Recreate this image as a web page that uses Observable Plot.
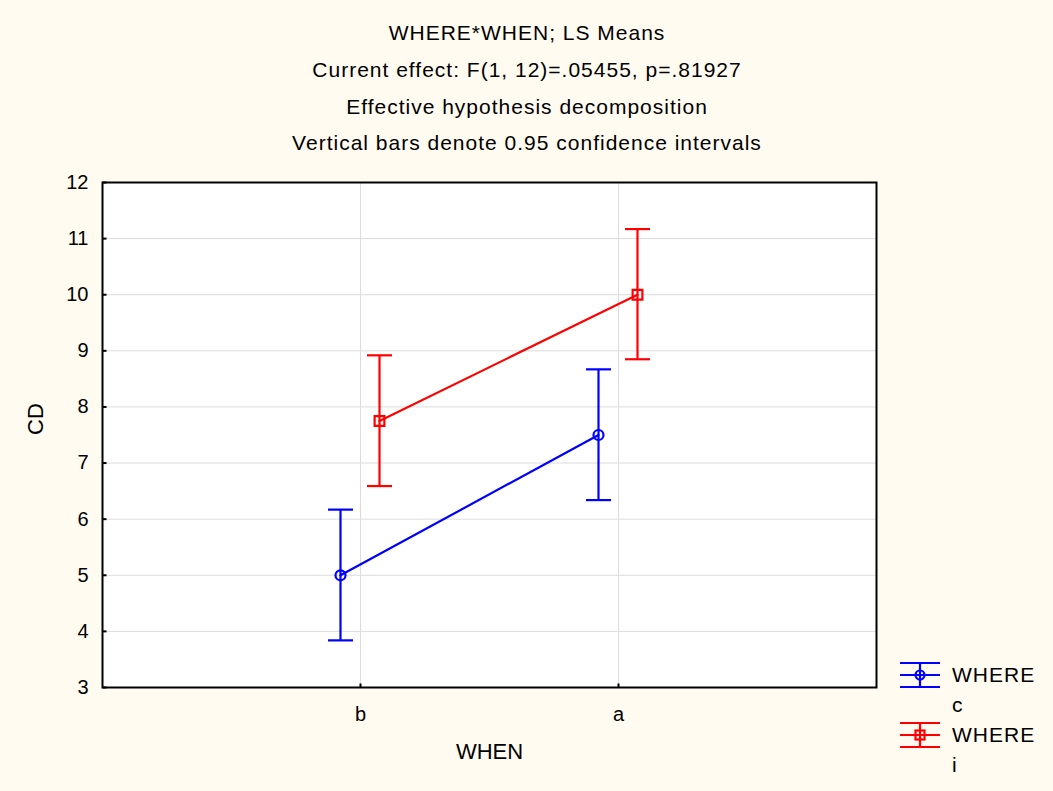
<!DOCTYPE html>
<html>
<head>
<meta charset="utf-8">
<script src="https://cdn.jsdelivr.net/npm/d3@7"></script>
<script src="https://cdn.jsdelivr.net/npm/@observablehq/plot@0.6"></script>
<style>
  html, body { margin: 0; padding: 0; background: #fffbf0; }
  body { width: 1053px; height: 791px; overflow: hidden; position: relative;
         font-family: "Liberation Sans", Arial, sans-serif; color: #000; }
  #header, #chart, #legend { position: absolute; left: 0; }
  #header { top: 0; }
  #chart { top: 165px; }
  #legend { top: 0; }
</style>
</head>
<body>
<div id="header"></div>
<div id="chart"></div>
<div id="legend"></div>
<script>
// ---- data ----
const titleLines = [
  "WHERE*WHEN; LS Means",
  "Current effect: F(1, 12)=.05455, p=.81927",
  "Effective hypothesis decomposition",
  "Vertical bars denote 0.95 confidence intervals"
];
const whenLevels = ["b", "a"];
const whereLevels = ["c", "i"];
const meanC = [5.0, 7.5];
const lowC  = [3.84, 6.34];
const highC = [6.17, 8.67];
const meanI = [7.75, 10.0];
const lowI  = [6.59, 8.85];
const highI = [8.92, 11.17];
const yTicks = [3, 4, 5, 6, 7, 8, 9, 10, 11, 12];
const yGrid = [4, 5, 6, 7, 8, 9, 10, 11];
const xLabel = "WHEN";
const yLabel = "CD";
const legendTitle = "WHERE";

// ---- build tables ----
const rowsC = whenLevels.map((w, i) => ({when: w, where: whereLevels[0], mean: meanC[i], lo: lowC[i], hi: highC[i]}));
const rowsI = whenLevels.map((w, i) => ({when: w, where: whereLevels[1], mean: meanI[i], lo: lowI[i], hi: highI[i]}));

const BLUE = "#0000ff", RED = "#ff0000";
const FONT = '"Liberation Sans", Arial, sans-serif';
const LS = "1px";
const SW = 2.2;

// custom symbols
const hline = {draw(ctx, size) { const r = Math.sqrt(size / Math.PI); ctx.moveTo(-r, 0); ctx.lineTo(r, 0); }};
const tickRight = {draw(ctx, size) { const r = Math.sqrt(size / Math.PI); ctx.moveTo(0, 0); ctx.lineTo(r, 0); }};
const tickUp = {draw(ctx, size) { const r = Math.sqrt(size / Math.PI); ctx.moveTo(0, 0); ctx.lineTo(0, -r); }};

// ---- header ----
const header = d3.select("#header").append("svg").attr("width", 1053).attr("height", 165);
const baselines = [40, 77, 114, 150];
titleLines.forEach((t, i) => {
  header.append("text").attr("x", 527).attr("y", baselines[i])
    .attr("text-anchor", "middle").attr("font-family", FONT).attr("font-size", 21)
    .style("letter-spacing", LS)
    .attr("fill", "#000").text(t);
});

// ---- series marks ----
function series(rows, color, dx, symbol, r) {
  return [
    Plot.line(rows, {x: "when", y: "mean", stroke: color, strokeWidth: SW, dx}),
    Plot.ruleX(rows, {x: "when", y1: "lo", y2: "hi", stroke: color, strokeWidth: SW, dx}),
    Plot.dot(rows, {x: "when", y: "lo", symbol: hline, r: 12.5, stroke: color, strokeWidth: SW, dx}),
    Plot.dot(rows, {x: "when", y: "hi", symbol: hline, r: 12.5, stroke: color, strokeWidth: SW, dx}),
    Plot.dot(rows, {x: "when", y: "mean", symbol, r, stroke: color, fill: "none", strokeWidth: SW, dx})
  ];
}

const chart = Plot.plot({
  width: 1053,
  height: 626,
  marginLeft: 102,
  marginRight: 177,
  marginTop: 17,
  marginBottom: 104,
  style: {background: "transparent", fontFamily: FONT, fontSize: "20px", color: "#000", overflow: "visible"},
  x: {type: "point", domain: whenLevels, padding: 1},
  y: {domain: [3, 12]},
  marks: [
    Plot.frame({fill: "white", stroke: null}),
    Plot.gridY(yGrid, {stroke: "#dcdcdc", strokeOpacity: 1, strokeWidth: 1}),
    Plot.gridX(whenLevels, {stroke: "#dcdcdc", strokeOpacity: 1, strokeWidth: 1}),
    Plot.axisY(yTicks, {tickSize: 0, tickPadding: 14, fontSize: 20, tickFormat: d3.format("d"), label: null}),
    Plot.axisX(whenLevels, {tickSize: 0, tickPadding: 19, fontSize: 20, label: null}),
    Plot.dot(yTicks, {y: d => d, frameAnchor: "left", symbol: tickRight, r: 4, stroke: "#000", strokeWidth: 2}),
    Plot.dot(whenLevels, {x: d => d, frameAnchor: "bottom", symbol: tickUp, r: 4, stroke: "#000", strokeWidth: 2}),
    ...series(rowsC, BLUE, -20, "circle", 5),
    ...series(rowsI, RED, 19, "square", 5.5),
    Plot.frame({stroke: "#000", strokeWidth: 2}),
    Plot.text([xLabel], {frameAnchor: "bottom", dy: 71, text: d => d, fontSize: 22, fill: "#000"}),
    Plot.text([yLabel], {frameAnchor: "left", dx: -67, rotate: -90, text: d => d, fontSize: 22, fill: "#000"})
  ]
});
document.getElementById("chart").appendChild(chart);

// ---- legend ----
const leg = d3.select("#legend").append("svg").attr("width", 1053).attr("height", 791)
  .style("pointer-events", "none");
const legendItems = [
  {level: whereLevels[0], color: BLUE, sym: "circle", cy: 675},
  {level: whereLevels[1], color: RED, sym: "square", cy: 735}
];
legendItems.forEach(it => {
  const g = leg.append("g").attr("stroke", it.color).attr("stroke-width", SW).attr("fill", "none");
  [-12, 0, 12].forEach(o => g.append("line").attr("x1", 900).attr("x2", 940).attr("y1", it.cy + o).attr("y2", it.cy + o));
  g.append("line").attr("x1", 920).attr("x2", 920).attr("y1", it.cy - 12).attr("y2", it.cy + 12);
  if (it.sym === "circle") g.append("circle").attr("cx", 920).attr("cy", it.cy).attr("r", 4.5);
  else g.append("rect").attr("x", 915.5).attr("y", it.cy - 4.5).attr("width", 9).attr("height", 9);
  leg.append("text").attr("x", 952).attr("y", it.cy + 7).attr("font-family", FONT).attr("font-size", 21)
    .style("letter-spacing", LS).attr("fill", "#000").text(legendTitle);
  leg.append("text").attr("x", 952).attr("y", it.cy + 37).attr("font-family", FONT).attr("font-size", 21)
    .attr("fill", "#000").text(it.level);
});
</script>
</body>
</html>
